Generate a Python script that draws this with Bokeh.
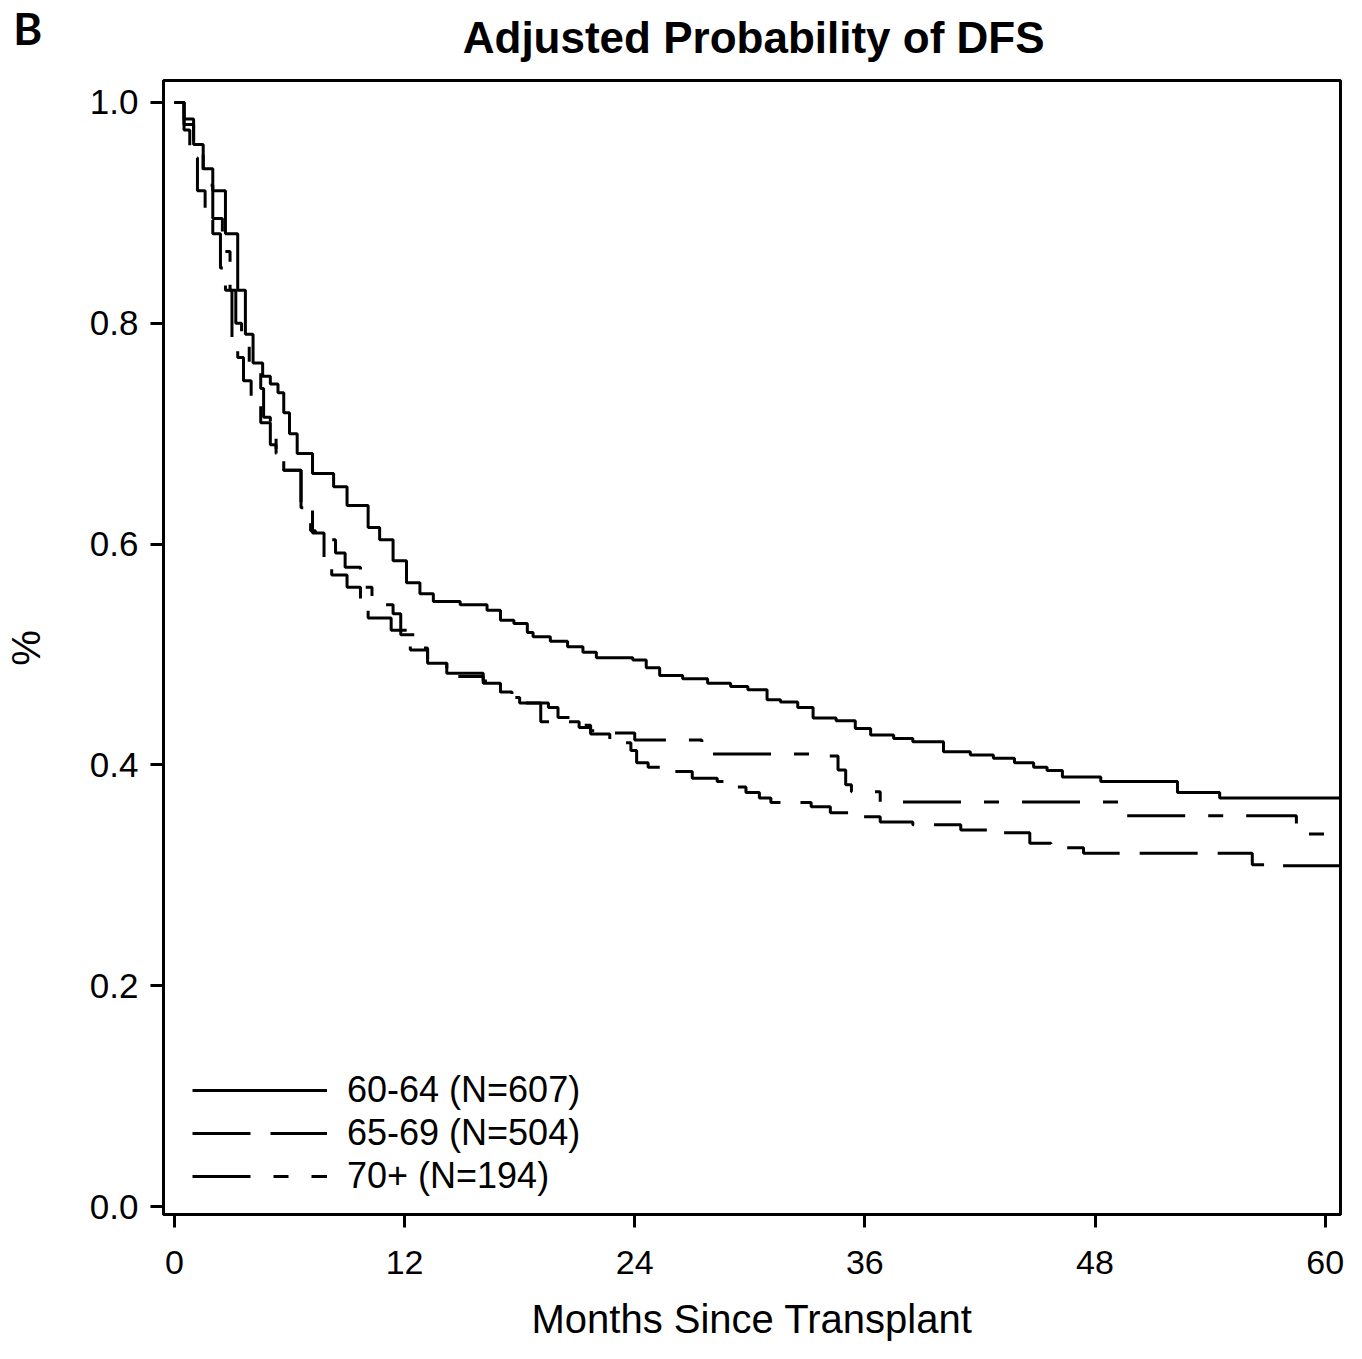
import math
from bokeh.plotting import figure
from bokeh.models import Range1d, FixedTicker, Label, Legend, LegendItem
from bokeh.embed import file_html
from bokeh.resources import INLINE

panel_letter = "B"
chart_title = "Adjusted Probability of DFS"
x_title = "Months Since Transplant"
y_title = "%"
series_labels = ["60-64 (N=607)", "65-69 (N=504)", "70+ (N=194)"]

# 60-64 (solid)
months_6064 = [0, 0.5, 1.0, 1.5, 2.0, 2.66, 3.3, 3.7, 4.1, 4.6, 5.0, 5.4, 5.7, 6.0, 6.4, 7.2,
               8.3, 9.0, 10.1, 10.7, 11.4, 12.1, 12.8, 13.5, 14.9, 16.3, 17.0, 17.7, 18.4, 18.7,
               19.6, 20.5, 21.3, 22.0, 23.9, 24.6, 25.3, 26.5, 27.8, 29.0, 29.9, 30.9, 31.6,
               32.5, 33.3, 34.5, 35.5, 36.3, 37.5, 38.5, 40.1, 41.5, 42.7, 43.8, 44.8, 45.5,
               46.3, 48.3, 52.3, 54.5, 60.8]
dfs_6064 = [1.0, 0.985, 0.962, 0.94, 0.92, 0.881, 0.83, 0.79, 0.764, 0.752, 0.745, 0.737,
            0.719, 0.70, 0.682, 0.664, 0.652, 0.635, 0.615, 0.604, 0.585, 0.565, 0.555,
            0.548, 0.545, 0.540, 0.531, 0.528, 0.520, 0.516, 0.512, 0.507, 0.502, 0.497,
            0.495, 0.488, 0.481, 0.478, 0.474, 0.471, 0.468, 0.459, 0.457, 0.452, 0.4425,
            0.440, 0.433, 0.427, 0.424, 0.421, 0.412, 0.409, 0.406, 0.402, 0.398, 0.395,
            0.389, 0.385, 0.375, 0.370, 0.370]

# 65-69 (long dashes)
months_6569 = [0, 0.5, 0.8, 1.2, 1.6, 2.0, 2.4, 2.66, 3.0, 3.3, 3.6, 4.0, 4.5, 5.0, 5.3, 5.7,
               6.6, 7.2, 7.8, 8.2, 9.0, 9.7, 10.1, 11.3, 12.3, 13.2, 14.2, 16.1, 17.0, 17.4,
               18.0, 19.1, 21.1, 21.7, 22.7, 23.2, 23.8, 24.1, 24.7, 25.5, 27.0, 28.3, 29.0,
               29.8, 30.5, 31.1, 33.2, 34.2, 35.8, 36.8, 38.5, 41.0, 43.1, 44.6, 45.7, 47.4,
               56.2, 57.0, 60.8]
dfs_6569 = [1.0, 0.975, 0.95, 0.92, 0.90, 0.881, 0.85, 0.83, 0.787, 0.769, 0.748, 0.732,
            0.71, 0.69, 0.682, 0.667, 0.633, 0.61, 0.583, 0.572, 0.561, 0.543, 0.533, 0.522,
            0.504, 0.492, 0.480, 0.474, 0.465, 0.461, 0.456, 0.439, 0.434, 0.428, 0.423,
            0.420, 0.413, 0.402, 0.398, 0.394, 0.388, 0.385, 0.380, 0.375, 0.370, 0.366,
            0.362, 0.3566, 0.353, 0.3484, 0.3457, 0.341, 0.3385, 0.329, 0.325, 0.320,
            0.3095, 0.3086, 0.3086]

# 70+ (long-short dashes)
months_70 = [0, 0.5, 1.0, 1.5, 2.0, 2.5, 2.9, 3.2, 3.5, 3.9, 4.5, 4.65, 5.0, 5.3, 5.7, 6.6,
             7.1, 7.35, 8.4, 8.9, 9.7, 9.9, 10.3, 10.7, 11.4, 11.8, 12.7, 13.2, 14.2, 16.1,
             17.0, 17.6, 18.0, 19.5, 20.0, 21.1, 21.7, 22.5, 24.0, 27.5, 34.1, 34.6, 35.0,
             35.3, 36.8, 49.2, 58.5, 60.8]
dfs_70 = [1.0, 0.98, 0.955, 0.925, 0.895, 0.865, 0.83, 0.80, 0.78, 0.76, 0.741, 0.715, 0.70,
          0.682, 0.667, 0.633, 0.612, 0.604, 0.592, 0.579, 0.572, 0.561, 0.552, 0.545, 0.537,
          0.518, 0.506, 0.492, 0.483, 0.476, 0.466, 0.460, 0.456, 0.452, 0.443, 0.436,
          0.431, 0.429, 0.4226, 0.410, 0.408, 0.3955, 0.382, 0.3756, 0.3665, 0.354, 0.3375,
          0.3375]

x_ticks = [0, 12, 24, 36, 48, 60]
y_ticks = [0.0, 0.2, 0.4, 0.6, 0.8, 1.0]
y_tick_labels = ["0.0", "0.2", "0.4", "0.6", "0.8", "1.0"]

FONT = "Liberation Sans"

p = figure(width=1346, height=1343, output_backend="svg", toolbar_location=None,
           x_range=Range1d(-0.57, 60.8), y_range=Range1d(-0.0072, 1.0199),
           min_border_left=163, min_border_right=6, min_border_top=80,
           min_border_bottom=128)

p.xgrid.visible = False
p.ygrid.visible = False
p.outline_line_color = "black"
p.outline_line_width = 3
p.outline_line_alpha = 1.0
p.background_fill_color = "white"
p.border_fill_color = "white"

for ax in (p.xaxis[0], p.yaxis[0]):
    ax.axis_line_width = 3
    ax.axis_line_color = "black"
    ax.major_tick_line_width = 3
    ax.major_tick_line_color = "black"
    ax.major_tick_out = 13
    ax.major_tick_in = 0
    ax.minor_tick_line_color = None
    ax.major_label_text_font = FONT
    ax.major_label_text_color = "black"
    ax.axis_label_text_font = FONT
    ax.axis_label_text_font_size = "40px"
    ax.axis_label_text_font_style = "normal"
    ax.axis_label_text_color = "black"

p.xaxis.major_label_text_font_size = "34px"
p.yaxis.major_label_text_font_size = "35px"
p.xaxis.ticker = FixedTicker(ticks=x_ticks)
p.yaxis.ticker = FixedTicker(ticks=y_ticks)
p.yaxis.major_label_overrides = {t: l for t, l in zip(y_ticks, y_tick_labels)}
p.xaxis.axis_label = x_title
p.xaxis.major_label_standoff = 23
p.xaxis.axis_label_standoff = 20
p.yaxis.major_label_standoff = 12

r1 = p.step(months_6064, dfs_6064, mode="after", line_color="black", line_width=3)
r2 = p.step(months_6569, dfs_6569, mode="after", line_color="black", line_width=3,
            line_dash="58 20")
r3 = p.step(months_70, dfs_70, mode="after", line_color="black", line_width=3,
            line_dash="58 23 15 23")

legend = Legend(items=[LegendItem(label=series_labels[0], renderers=[r1]),
                       LegendItem(label=series_labels[1], renderers=[r2]),
                       LegendItem(label=series_labels[2], renderers=[r3])],
                location=(29, 17))
legend.border_line_color = None
legend.background_fill_alpha = 0
legend.padding = 0
legend.margin = 0
legend.spacing = 1
legend.glyph_width = 135
legend.glyph_height = 40
legend.label_height = 40
legend.label_standoff = 20
legend.label_text_font = FONT
legend.label_text_font_size = "36px"
legend.label_text_color = "black"
p.add_layout(legend, "center")

# chart title, in the top side panel (unclipped)
title_label = Label(x=30.2, y=1.0588, x_units="data", y_units="data", text=chart_title,
                    text_font=FONT, text_font_style="bold", text_font_size="44px",
                    text_align="center", text_baseline="middle", text_color="black")
p.add_layout(title_label, "above")

# y-axis title, drawn in the left side panel (unclipped), rotated
y_label = Label(x=-7.75, y=0.506, x_units="data", y_units="data", text=y_title,
                angle=math.pi / 2, text_font=FONT, text_font_size="40px",
                text_align="center", text_baseline="middle", text_color="black")
p.add_layout(y_label, "left")

# panel letter, in the left side panel (unclipped)
letter = Label(x=-8.40, y=1.0679, x_units="data", y_units="data", text=panel_letter,
               text_font="Lato", text_font_style="bold", text_font_size="44px",
               text_baseline="middle", text_align="left", text_color="black")
p.add_layout(letter, "left")

open("out.html", "w").write(file_html(p, INLINE))
